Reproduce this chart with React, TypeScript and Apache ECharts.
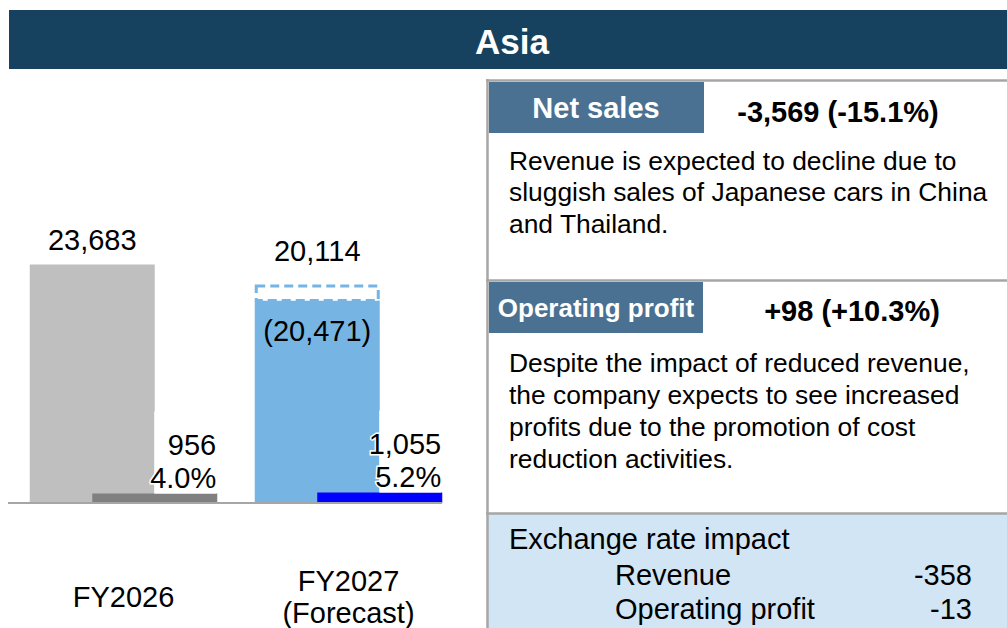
import React, { useEffect, useRef } from 'react';
import * as echarts from 'echarts';

// ---------- data ----------
const title = 'Asia';
const categories = ['FY2026', 'FY2027\n(Forecast)'];
const netSales = [23683, 20114];
const netSalesExFx: (number | null)[] = [null, 20471];
const operatingProfit = [956, 1055];
const operatingMargin = [4.0, 5.2];

const netSalesHeading = 'Net sales';
const netSalesChange = '-3,569 (-15.1%)';
const netSalesComment = [
  'Revenue is expected to decline due to',
  'sluggish sales of Japanese cars in China',
  'and Thailand.',
];
const opHeading = 'Operating profit';
const opChange = '+98 (+10.3%)';
const opComment = [
  'Despite the impact of reduced revenue,',
  'the company expects to see increased',
  'profits due to the promotion of cost',
  'reduction activities.',
];
const fxHeading = 'Exchange rate impact';
const fxLabels = ['Revenue', 'Operating profit'];
const fxValues = [-358, -13];

// ---------- style ----------
const FONT = '"Liberation Sans", Arial, Helvetica, sans-serif';
const netColors = ['#BFBFBF', '#76B5E3'];
const opColors = ['#808080', '#0000FF'];
const BAR_W = 125;
const OVERLAP = 0.5;
const SHIFT = (BAR_W * (1 - OVERLAP)) / 2;
const BORDER = '#A6A6A6';
const HEAD_BG = '#16425F';
const BOX_BG = '#4A7191';
const FX_BG = '#D2E5F4';

const fmt = (v: number) => Number(v).toLocaleString('en-US');

export default function App() {
  const ref = useRef<HTMLDivElement>(null);

  useEffect(() => {
    if (!ref.current) return;
    const chart = echarts.init(ref.current, undefined, { renderer: 'svg' });

    const textEl = (x: number, y: number, text: string, size: number, extra: any = {}) => ({
      type: 'text',
      x,
      y,
      silent: true,
      style: {
        text,
        fontSize: size,
        fontFamily: FONT,
        fill: '#000',
        align: 'left',
        verticalAlign: 'middle',
        ...extra,
      },
    });

    const option: any = {
      animation: false,
      backgroundColor: '#fff',
      textStyle: { fontFamily: FONT },
      grid: { left: 11, top: 201, width: 450, height: 302, containLabel: false, outerBoundsMode: 'none' },
      xAxis: {
        type: 'category',
        data: categories,
        axisTick: { show: false },
        axisLine: { show: false },
        axisLabel: {
          interval: 0,
          fontSize: 29,
          lineHeight: 32,
          color: '#000',
          margin: 94,
          verticalAlign: 'middle',
          fontFamily: FONT,
        },
        splitLine: { show: false },
      },
      yAxis: { type: 'value', min: 0, max: 30000, show: false, splitLine: { show: false } },
      series: [
        {
          type: 'bar',
          name: 'Net sales',
          barWidth: BAR_W,
          barGap: '-50%',
          data: netSales.map((v, i) => ({
            value: v,
            itemStyle: { color: netColors[i] },
            label: { distance: netSalesExFx[i] != null ? 35 : 10 },
          })),
          label: {
            show: true,
            position: 'top',
            fontSize: 29,
            color: '#000',
            fontFamily: FONT,
            formatter: (p: any) => fmt(p.value),
          },
        },
        {
          type: 'bar',
          name: 'Operating profit',
          barWidth: BAR_W,
          barGap: '-50%',
          data: operatingProfit.map((v, i) => ({ value: v, itemStyle: { color: opColors[i] } })),
          label: {
            show: true,
            position: [BAR_W - 1, 0],
            align: 'right',
            verticalAlign: 'bottom',
            width: 62,
            backgroundColor: '#fff',
            padding: [16, 0, 0, 0],
            formatter: (p: any) =>
              `{a|${fmt(p.value)}}\n{b|${operatingMargin[p.dataIndex].toFixed(1)}%}`,
            rich: {
              a: {
                fontSize: 29, lineHeight: 36, color: '#000', fontFamily: FONT, align: 'right',
                textBorderColor: '#fff', textBorderWidth: 3,
              },
              b: {
                fontSize: 29, lineHeight: 30, color: '#000', fontFamily: FONT, align: 'right',
                textBorderColor: '#fff', textBorderWidth: 3,
              },
            },
          },
        },
        {
          type: 'custom',
          name: 'Excluding FX impact',
          z: 3,
          data: netSalesExFx.flatMap((v, i) => (v == null ? [] : [[i, v, netSales[i]]])),
          encode: { x: 0, y: 1 },
          renderItem: (params: any, api: any) => {
            const i = api.value(0);
            const ex = api.value(1);
            const exTop = api.coord([i, ex]);
            const base = api.coord([i, api.value(2)]);
            const cx = base[0] - SHIFT;
            const boxBottom = base[1];
            // keep the excluding-FX outline visible (min. height)
            const boxTop = Math.min(exTop[1], boxBottom - 16);
            return {
              type: 'group',
              children: [
                {
                  type: 'rect',
                  shape: {
                    x: cx - BAR_W / 2 + 1.5,
                    y: boxTop + 1.5,
                    width: BAR_W - 3,
                    height: boxBottom - boxTop - 1.5,
                  },
                  style: { fill: '#fff', stroke: '#76B5E3', lineWidth: 3, lineDash: [9, 5] },
                },
                {
                  type: 'text',
                  x: cx,
                  y: boxBottom + 30,
                  style: {
                    text: `(${fmt(ex)})`,
                    fontSize: 29,
                    fontFamily: FONT,
                    fill: '#000',
                    align: 'center',
                    verticalAlign: 'middle',
                  },
                },
              ],
            };
          },
        },
      ],
      graphic: [
        // chart baseline
        { type: 'line', silent: true, z: 10, shape: { x1: 8, y1: 503, x2: 442, y2: 503 }, style: { stroke: BORDER, lineWidth: 2 } },
        // header
        { type: 'rect', silent: true, shape: { x: 9, y: 10, width: 998, height: 59 }, style: { fill: HEAD_BG } },
        textEl(512, 41, title, 35, { fill: '#fff', fontWeight: 'bold', align: 'center' }),
        // exchange-rate panel background
        { type: 'rect', silent: true, shape: { x: 488, y: 514, width: 519, height: 114 }, style: { fill: FX_BG } },
        // borders
        { type: 'line', silent: true, shape: { x1: 487.5, y1: 79, x2: 487.5, y2: 628 }, style: { stroke: BORDER, lineWidth: 2.5 } },
        { type: 'line', silent: true, shape: { x1: 486, y1: 80.5, x2: 1007, y2: 80.5 }, style: { stroke: BORDER, lineWidth: 2.5 } },
        { type: 'line', silent: true, shape: { x1: 486, y1: 280.5, x2: 1007, y2: 280.5 }, style: { stroke: BORDER, lineWidth: 2.5 } },
        { type: 'line', silent: true, shape: { x1: 486, y1: 513.5, x2: 1007, y2: 513.5 }, style: { stroke: BORDER, lineWidth: 2.5 } },
        // net sales heading
        { type: 'rect', silent: true, shape: { x: 489, y: 82, width: 215, height: 51 }, style: { fill: BOX_BG } },
        textEl(596, 108, netSalesHeading, 29, { fill: '#fff', fontWeight: 'bold', align: 'center' }),
        textEl(838, 112, netSalesChange, 29, { fontWeight: 'bold', align: 'center' }),
        {
          type: 'text', x: 509, y: 145, silent: true,
          style: { text: netSalesComment.join('\n'), fontSize: 26.4, lineHeight: 31.5, fontFamily: FONT, fill: '#000', align: 'left', verticalAlign: 'top' },
        },
        // operating profit heading
        { type: 'rect', silent: true, shape: { x: 489, y: 282, width: 214, height: 51 }, style: { fill: BOX_BG } },
        textEl(596, 308, opHeading, 26, { fill: '#fff', fontWeight: 'bold', align: 'center' }),
        textEl(852, 311, opChange, 29, { fontWeight: 'bold', align: 'center' }),
        {
          type: 'text', x: 509, y: 347, silent: true,
          style: { text: opComment.join('\n'), fontSize: 26.4, lineHeight: 32, fontFamily: FONT, fill: '#000', align: 'left', verticalAlign: 'top' },
        },
        // exchange rate impact
        textEl(509, 539, fxHeading, 29),
        ...fxLabels.flatMap((lab, i) => [
          textEl(615, 575 + i * 34, lab, 29),
          textEl(972, 575 + i * 34, fmt(fxValues[i]), 29, { align: 'right' }),
        ]),
      ],
    };

    chart.setOption(option);
    return () => chart.dispose();
  }, []);

  return (
    <div
      ref={ref}
      style={{ position: 'fixed', left: 0, top: 0, width: 1007, height: 628, background: '#fff' }}
    />
  );
}
